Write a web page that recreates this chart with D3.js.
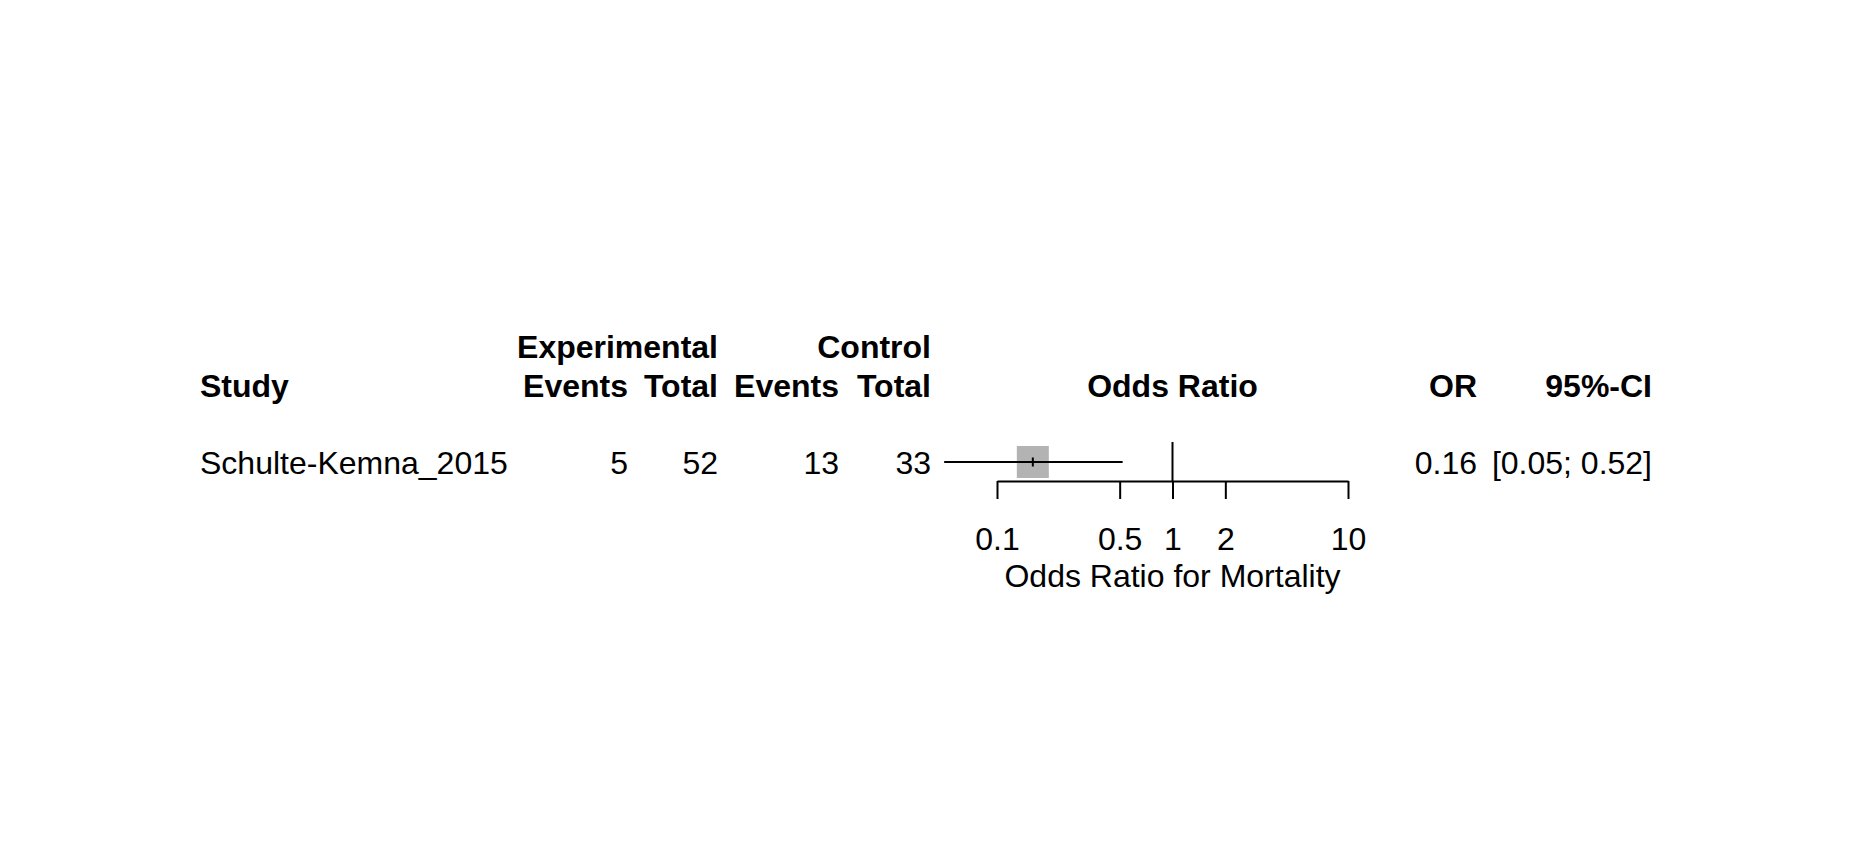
<!DOCTYPE html>
<html>
<head>
<meta charset="utf-8">
<script src="https://cdn.jsdelivr.net/npm/d3@7"></script>
<style>
  body { margin: 0; background: #ffffff; }
  text { font-family: "Liberation Sans", Arial, Helvetica, sans-serif; font-size: 32px; fill: #000000; }
  .bold { font-weight: bold; }
</style>
</head>
<body>
<div id="container"></div>
<script>
// data
let studies = ["Schulte-Kemna_2015"];
let eventsE = [5];
let totalE = [52];
let eventsC = [13];
let totalC = [33];
let oddsRatio = [0.16];
let ciLower = [0.05];
let ciUpper = [0.52];
let tickValues = [0.1, 0.5, 1, 2, 10];
let tickLabels = ["0.1", "0.5", "1", "2", "10"];
let xLabel = "Odds Ratio for Mortality";

let width = 1852;
let height = 846;

let svg = d3.select("#container")
  .append("svg")
    .attr("width", width)
    .attr("height", height)
;

svg.append("rect")
  .attr("width", width)
  .attr("height", height)
  .attr("fill", "#ffffff")
;

// columns
let studyX = 200;
let colEventsE = 628;
let colTotalE = 718;
let colEventsC = 839;
let colTotalC = 931;
let colOR = 1477;
let colCI = 1652;

let header1 = 358;
let header2 = 397;

let x = d3.scaleLog()
  .domain([0.1, 10])
  .range([997, 1348])
;

let y = d3.scaleBand()
  .domain(studies)
  .range([442, 482])
;

function rowMid(s) {
  return y(s) + y.bandwidth() / 2;
}

// header
function headText(label, px, py, anchor) {
  svg.append("text")
    .attr("class", "bold")
    .attr("x", px)
    .attr("y", py)
    .attr("text-anchor", anchor)
    .text(label)
  ;
}
headText("Experimental", colTotalE, header1, "end");
headText("Control", colTotalC, header1, "end");
headText("Study", studyX, header2, "start");
headText("Events", colEventsE, header2, "end");
headText("Total", colTotalE, header2, "end");
headText("Events", colEventsC, header2, "end");
headText("Total", colTotalC, header2, "end");
headText("Odds Ratio", x(1), header2, "middle");
headText("OR", colOR, header2, "end");
headText("95%-CI", colCI, header2, "end");

// study rows
let rows = svg.selectAll(".row").data(studies).enter()
  .append("g")
    .attr("class", "row")
    .attr("transform", function(d) { return "translate(0," + (rowMid(d) + 11.5) + ")"; })
;

rows.append("text").attr("x", studyX).text(function(d) { return d; });
rows.append("text").attr("x", colEventsE).attr("text-anchor", "end").text(function(d, i) { return eventsE[i]; });
rows.append("text").attr("x", colTotalE).attr("text-anchor", "end").text(function(d, i) { return totalE[i]; });
rows.append("text").attr("x", colEventsC).attr("text-anchor", "end").text(function(d, i) { return eventsC[i]; });
rows.append("text").attr("x", colTotalC).attr("text-anchor", "end").text(function(d, i) { return totalC[i]; });
rows.append("text").attr("x", colOR).attr("text-anchor", "end").text(function(d, i) { return oddsRatio[i].toFixed(2); });
rows.append("text").attr("x", colCI).attr("text-anchor", "end")
  .text(function(d, i) { return "[" + ciLower[i].toFixed(2) + "; " + ciUpper[i].toFixed(2) + "]"; })
;

// reference line at 1
svg.append("line")
  .attr("x1", x(1))
  .attr("x2", x(1))
  .attr("y1", 442)
  .attr("y2", 481)
  .attr("stroke", "#000000")
  .attr("stroke-width", 2)
;

// squares and CI
let marks = svg.selectAll(".mark").data(studies).enter()
  .append("g")
    .attr("class", "mark")
;

marks.append("rect")
  .attr("x", function(d, i) { return x(oddsRatio[i]) - 16; })
  .attr("y", function(d) { return rowMid(d) - 16; })
  .attr("width", 32)
  .attr("height", 32)
  .attr("fill", "#b3b3b3")
;

marks.append("line")
  .attr("x1", function(d, i) { return x(ciLower[i]); })
  .attr("x2", function(d, i) { return x(ciUpper[i]); })
  .attr("y1", function(d) { return rowMid(d); })
  .attr("y2", function(d) { return rowMid(d); })
  .attr("stroke", "#000000")
  .attr("stroke-width", 2)
;

marks.append("line")
  .attr("x1", function(d, i) { return x(oddsRatio[i]); })
  .attr("x2", function(d, i) { return x(oddsRatio[i]); })
  .attr("y1", function(d) { return rowMid(d) - 4.5; })
  .attr("y2", function(d) { return rowMid(d) + 4.5; })
  .attr("stroke", "#000000")
  .attr("stroke-width", 2)
;

// x axis
let axis = d3.axisBottom(x)
  .tickValues(tickValues)
  .tickFormat(function(d, i) { return tickLabels[i]; })
  .tickSize(18)
  .tickSizeOuter(0)
  .tickPadding(15)
;

let gAxis = svg.append("g")
  .attr("transform", "translate(0,481)")
  .call(axis)
;
gAxis.select(".domain").attr("stroke", "#000000").attr("stroke-width", 2);
gAxis.selectAll(".tick line").attr("stroke", "#000000").attr("stroke-width", 2);
gAxis.selectAll(".tick text")
  .attr("font-family", null)
  .attr("font-size", null)
  .attr("fill", "#000000")
  .attr("dy", null)
  .attr("y", 69)
;

svg.append("text")
  .attr("x", x(1))
  .attr("y", 587)
  .attr("text-anchor", "middle")
  .text(xLabel)
;
</script>
</body>
</html>
